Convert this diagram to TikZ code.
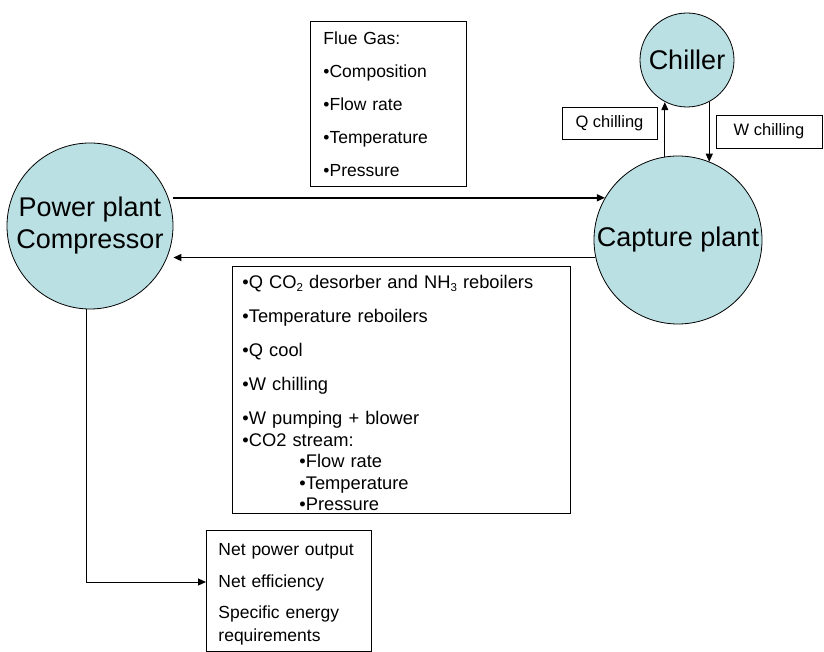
\documentclass[tikz,border=0pt]{standalone}
\usepackage{fontspec}
\setmainfont{Liberation Sans}
\usepackage{tikz}
\usetikzlibrary{arrows.meta, positioning}
\definecolor{plantblue}{RGB}{187,224,227}
\newcommand{\lowsub}[1]{\raisebox{-2.5pt}{\fontsize{11.5}{12}\selectfont #1}}

\tikzset{
    unit/.style={circle, draw, line width=0.8pt, fill=plantblue, inner sep=0pt, align=center, font=\fontsize{27}{32}\selectfont},
    infobox/.style={draw, line width=0.9pt, anchor=north west, align=left, inner ysep=0pt, font=\fontsize{17.5}{33}\selectfont},
    tag/.style={draw, line width=0.9pt, inner sep=0pt, font=\fontsize{16.5}{20}\selectfont},
    flow/.style={-{Stealth[length=8pt,width=7pt,inset=0pt]}, line width=1.4pt},
    thinflow/.style={-{Stealth[length=8pt,width=7pt,inset=0pt]}, line width=0.9pt}
}

\begin{document}
\begin{tikzpicture}[x=1pt,y=-1pt]
    \useasboundingbox (0,0) rectangle (824,652);
    % plants
    \node[unit, minimum size=166pt] (pp) at (90,226) {Power plant\\Compressor};
    \node[unit, minimum size=168pt] (cp) at (678,240) {Capture plant};
    \node[unit, minimum size=94pt] (ch) at (687,60) {Chiller};

    % data boxes
    \node[infobox, inner xsep=13pt, text width=130pt, minimum height=165pt] (flue) at (310,21)
        {Flue Gas:\\\textbullet Composition\\\textbullet Flow rate\\\textbullet Temperature\\\textbullet Pressure};
    \node[infobox, inner xsep=10pt, text width=318pt, minimum height=247pt, font=\fontsize{18.3}{21.5}\selectfont] (res) at (232,266)
        {\rule{0pt}{20pt}\textbullet Q CO\lowsub{2} desorber and NH\lowsub{3} reboilers\\[12.5pt]
         \textbullet Temperature reboilers\\[12.5pt]
         \textbullet Q cool\\[12.5pt]
         \textbullet W chilling\\[12.5pt]
         \textbullet W pumping + blower\\
         \textbullet CO2 stream:\\
         \hspace*{57pt}\textbullet Flow rate\\
         \hspace*{57pt}\textbullet Temperature\\
         \hspace*{57pt}\textbullet Pressure};
    \node[infobox, inner xsep=12pt, text width=141pt, minimum height=121pt, font=\fontsize{17.5}{23}\selectfont] (out) at (206,530)
        {\rule{0pt}{18pt}Net power output\\[9pt]Net efficiency\\[8pt]Specific energy\\requirements};

    \node[tag, minimum width=95pt, minimum height=32pt] (qch) at (609.5,123) {Q chilling};
    \node[tag, minimum width=106pt, minimum height=33pt] (wch) at (769,131.5) {W chilling};

    \path[flow]
        (pp.east |- cp.150) edge (cp.150)
        (cp.192) edge (cp.192 -| pp.east);
    \path[thinflow]
        (cp.99) edge (cp.99 |- ch.243)
        (ch.298) edge (ch.298 |- cp.68);

    \coordinate (elbow) at (86,582);
    \draw[flow, line width=1pt] (pp.south -| elbow) -- (elbow) -- (elbow -| out.west);
\end{tikzpicture}
\end{document}
